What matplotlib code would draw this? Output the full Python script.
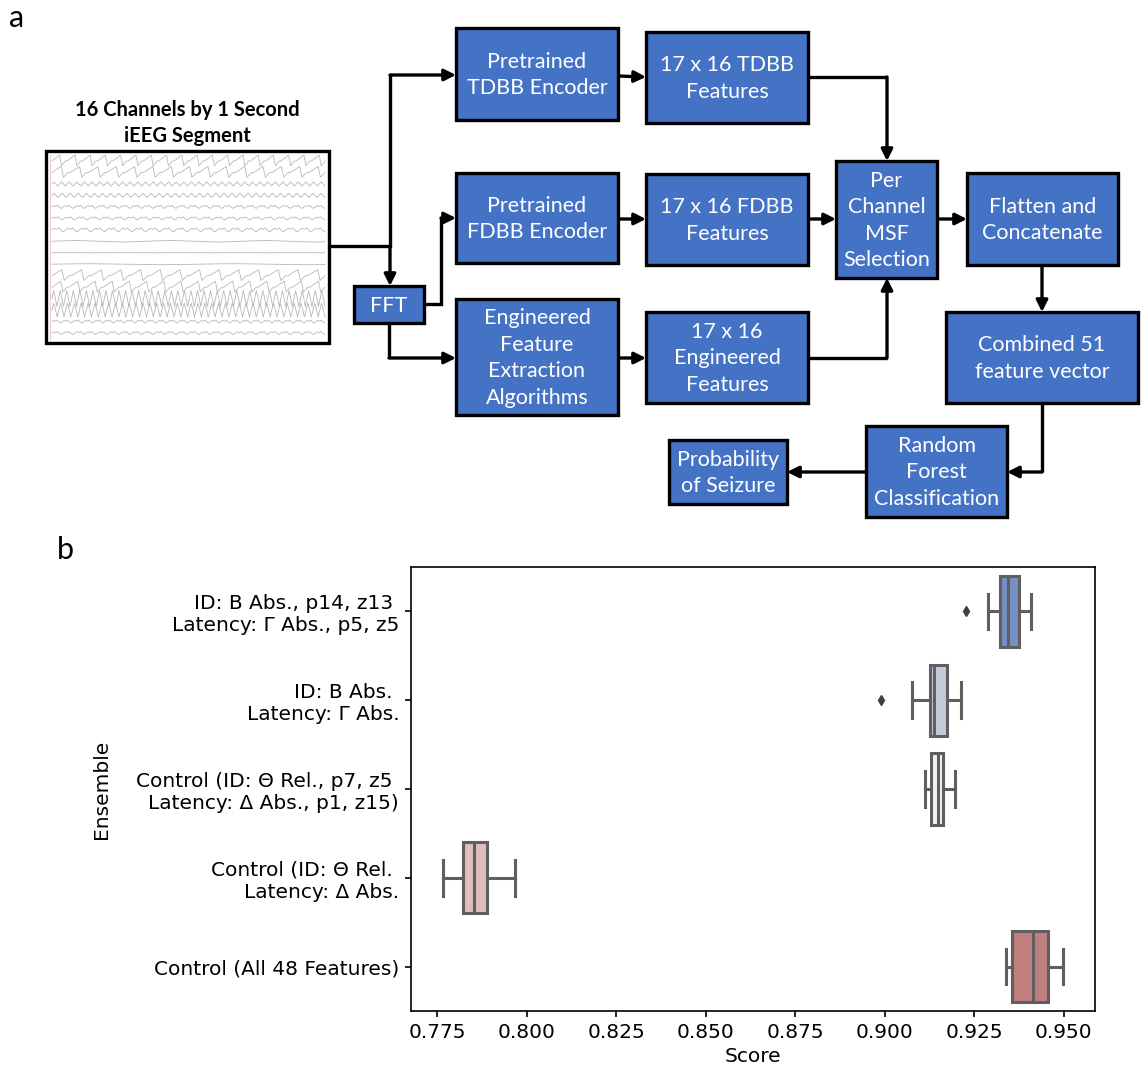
import numpy as np
import matplotlib.pyplot as plt
from matplotlib.patches import Rectangle

W, H = 1144, 1073

# ---- panel b data ----
ensembles = [
    "ID: B Abs., p14, z13 \nLatency: Γ Abs., p5, z5",
    "ID: B Abs. \nLatency: Γ Abs.",
    "Control (ID: Θ Rel., p7, z5 \nLatency: Δ Abs., p1, z15)",
    "Control (ID: Θ Rel. \nLatency: Δ Abs.",
    "Control (All 48 Features)",
]
whislo = [0.9288, 0.9075, 0.9111, 0.7765, 0.9338]
q1 = [0.9322, 0.9125, 0.9130, 0.7821, 0.9356]
med = [0.9343, 0.9138, 0.9148, 0.7852, 0.9413]
q3 = [0.9374, 0.9173, 0.9163, 0.7890, 0.9455]
whishi = [0.9409, 0.9214, 0.9196, 0.7967, 0.9499]
fliers = [[0.9226], [0.8989], [], [], []]
box_colors = ["#7490c2", "#c3cad9", "#f2f2f2", "#dfbebd", "#c07f7d"]
score_ticks = [0.775, 0.800, 0.825, 0.850, 0.875, 0.900, 0.925, 0.950]

# ---- panel a: flowchart labels ----
step_labels = {
    "tdbb_enc": "Pretrained\nTDBB Encoder",
    "tdbb_feat": "17 x 16 TDBB\nFeatures",
    "fdbb_enc": "Pretrained\nFDBB Encoder",
    "fdbb_feat": "17 x 16 FDBB\nFeatures",
    "fft": "FFT",
    "eng": "Engineered\nFeature\nExtraction\nAlgorithms",
    "eng_feat": "17 x 16\nEngineered\nFeatures",
    "msf": "Per\nChannel\nMSF\nSelection",
    "flat": "Flatten and\nConcatenate",
    "comb": "Combined 51\nfeature vector",
    "rf": "Random\nForest\nClassification",
    "prob": "Probability\nof Seizure",
}

# 16 iEEG channel sketches: (waveform pattern, repeats, amplitude)
eeg_patterns = {
    "saw": [0.0, 0.25, 0.5, 0.75, 1.0, -0.8, -0.4, 0.0],
    "fast": [0.0, 0.7, 0.0, -0.7],
    "ripple": [0.0, 0.4, 0.1, 0.5, -0.2, -0.5],
    "slow": [0.0, 0.15, 0.25, 0.15, 0.0, -0.15, -0.25, -0.15],
    "flat": [0.0, 0.05, 0.0, -0.05],
    "big": [0.0, 1.0, 0.1, -1.0],
}
eeg_channels = [
    ("saw", 18, 6), ("saw", 15, 6), ("fast", 36, 3), ("fast", 34, 3),
    ("ripple", 24, 3), ("ripple", 22, 3), ("ripple", 20, 4), ("slow", 3, 3),
    ("flat", 5, 1), ("slow", 2, 2), ("saw", 14, 6), ("saw", 16, 6),
    ("big", 42, 8), ("big", 40, 7), ("ripple", 26, 3), ("ripple", 24, 3),
]

fig = plt.figure(figsize=(W / 100, H / 100), dpi=100)
ax0 = fig.add_axes([0, 0, 1, 1])
ax0.set_xlim(0, W)
ax0.set_ylim(H, 0)
ax0.axis("off")

BLUE = "#4472c4"
FONT = "Lato"

# box layout in pixels (x0, y0, x1, y1)
layout = {
    "tdbb_enc": (456, 28, 618, 120),
    "tdbb_feat": (646, 32, 808, 123),
    "fdbb_enc": (456, 173, 618, 263),
    "fdbb_feat": (646, 174, 808, 265),
    "fft": (354, 286, 424, 323),
    "eng": (456, 299, 618, 415),
    "eng_feat": (646, 312, 808, 403),
    "msf": (836, 161, 937, 278),
    "flat": (967, 173, 1118, 265),
    "comb": (946, 312, 1138, 403),
    "rf": (866, 426, 1007, 517),
    "prob": (669, 440, 787, 504),
}
for key, (x0, y0, x1, y1) in layout.items():
    ax0.add_patch(Rectangle((x0, y0), x1 - x0, y1 - y0, facecolor=BLUE,
                            edgecolor="black", lw=2.4, zorder=3))
    ax0.text((x0 + x1) / 2, (y0 + y1) / 2 + 1, step_labels[key], color="white",
             ha="center", va="center", fontsize=15.5, family=FONT,
             linespacing=1.4, zorder=4)

# iEEG segment sketch
ex0, ey0, ex1, ey1 = 46, 151, 329, 343
ax0.add_patch(Rectangle((ex0, ey0), ex1 - ex0, ey1 - ey0, facecolor="white",
                        edgecolor="black", lw=2.4, zorder=3))
ax0.plot([ex0 + 4, ex0 + 4], [ey0 + 4, ey1 - 4], color="#f0c8d8", lw=0.8, zorder=4)
rows = np.linspace(ey0 + 10, ey1 - 10, len(eeg_channels))
for (name, reps, amp), yc in zip(eeg_channels, rows):
    wave = np.tile(eeg_patterns[name], reps)
    xs = np.linspace(ex0 + 6, ex1 - 4, len(wave))
    ax0.plot(xs, yc - amp * wave, color="#b8b8b8", lw=0.6, zorder=4)
ax0.text((ex0 + ex1) / 2, 123, "16 Channels by 1 Second\niEEG Segment",
         ha="center", va="center", fontsize=14.5, fontweight="bold",
         family=FONT, linespacing=1.4)


def connector(pts):
    xs = [p[0] for p in pts]
    ys = [p[1] for p in pts]
    if len(pts) > 2:
        ax0.plot(xs[:-1], ys[:-1], color="black", lw=2.4,
                 solid_joinstyle="miter", solid_capstyle="butt", zorder=2)
    ax0.annotate("", xy=pts[-1], xytext=pts[-2],
                 arrowprops=dict(arrowstyle="-|>", color="black", lw=2.4,
                                 mutation_scale=17, shrinkA=0, shrinkB=0),
                 zorder=2)


connector([(329, 246), (390, 246), (390, 75), (456, 75)])
connector([(390, 246), (390, 286)])
connector([(424, 304), (441, 304), (441, 218), (456, 218)])
connector([(389, 323), (389, 358), (456, 358)])
connector([(618, 76), (646, 77)])
connector([(618, 219), (646, 219)])
connector([(618, 358), (646, 358)])
connector([(808, 77), (887, 77), (887, 161)])
connector([(808, 219), (836, 219)])
connector([(808, 358), (887, 358), (887, 278)])
connector([(937, 219), (967, 219)])
connector([(1042, 265), (1042, 312)])
connector([(1042, 403), (1042, 472), (1007, 472)])
connector([(866, 472), (787, 472)])

ax0.text(17, 18, "a", ha="center", va="center", fontsize=22, family=FONT)
ax0.text(65, 550, "b", ha="center", va="center", fontsize=22, family=FONT)

# ---- panel b: box plot ----
ax = fig.add_axes([411 / W, 1 - 1011 / H, (1095 - 411) / W, (1011 - 567) / H])
stats = []
for i in range(len(ensembles)):
    stats.append(dict(whislo=whislo[i], q1=q1[i], med=med[i], q3=q3[i],
                      whishi=whishi[i], fliers=fliers[i]))
edge = "#5f5f5f"
bp = ax.bxp(stats, positions=range(len(ensembles)), widths=0.8, capwidths=0.4,
            orientation="horizontal", patch_artist=True,
            boxprops=dict(edgecolor=edge, lw=2.2),
            whiskerprops=dict(color=edge, lw=2.2),
            capprops=dict(color=edge, lw=2.2),
            medianprops=dict(color=edge, lw=2.2),
            flierprops=dict(marker="d", markerfacecolor="#3f3f3f",
                            markeredgecolor="#3f3f3f", markersize=5))
for patch, c in zip(bp["boxes"], box_colors):
    patch.set_facecolor(c)

ax.set_xlim(0.7677, 0.9587)
ax.set_ylim(len(ensembles) - 0.5, -0.5)
ax.set_xticks(score_ticks)
ax.set_xticklabels([f"{t:.3f}" for t in score_ticks])
ax.set_yticks(range(len(ensembles)))
ax.set_yticklabels(ensembles)
ax.tick_params(labelsize=14.5, length=4.5, width=1.2, pad=4)
for s in ax.spines.values():
    s.set_linewidth(1.2)
ax.set_xlabel("Score", fontsize=14.5, labelpad=4)
ax.set_ylabel("Ensemble", fontsize=14.5, labelpad=18)

fig.savefig("out.png", dpi=100)
